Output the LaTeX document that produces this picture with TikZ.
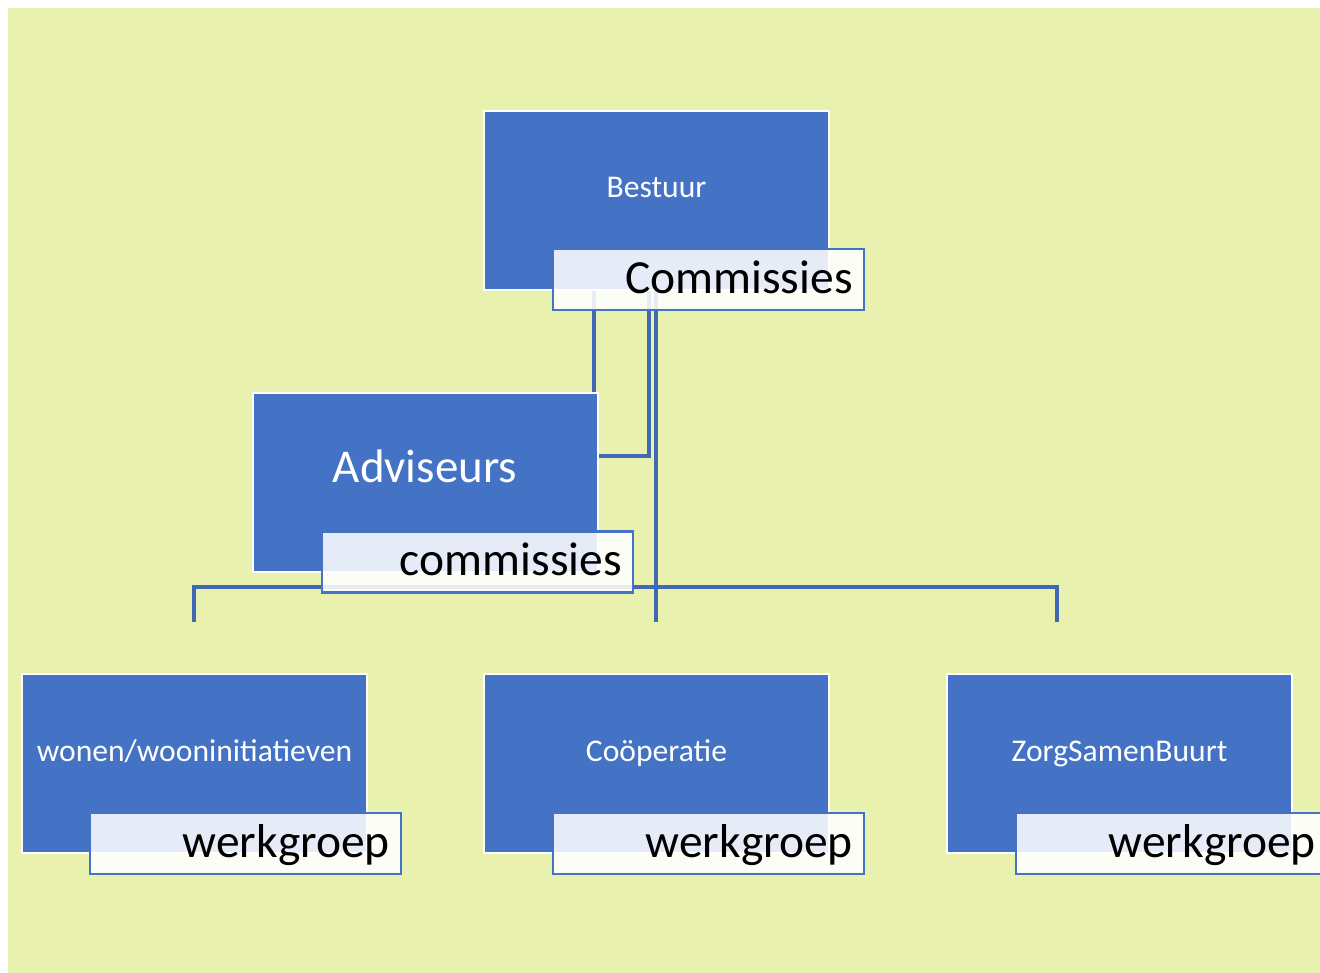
\documentclass[tikz,border=0pt]{standalone}
\usepackage{fontspec}
\setmainfont{Carlito}
\definecolor{bg}{HTML}{E8F2AE}
\definecolor{boxblue}{HTML}{4472C4}
\definecolor{lineblue}{HTML}{4068B4}
\pgfdeclarelayer{back}
\pgfdeclarelayer{lines}
\pgfsetlayers{back,lines,main}
\begin{document}
\begin{tikzpicture}[x=1pt,y=-1pt,
  box/.style={draw=white, line width=2, fill=boxblue, minimum width=345, minimum height=179, inner sep=0},
  boxtxt/.style={label={[anchor=base, text=white, yshift=-88, font=\fontsize{31.6}{38}\selectfont]north:#1}},
  bigtxt/.style={label={[anchor=base, text=white, yshift=-90, font=\fontsize{47}{56}\selectfont]north:#1}},
  lbl/.style={draw=boxblue, line width=2.5, fill=white, fill opacity=0.87, text opacity=1, minimum width=311, minimum height=61, inner sep=0,
    label={[anchor=base east, text=black, fill opacity=1, text opacity=1, xshift=-9, yshift=18, font=\fontsize{47.5}{56}\selectfont]south east:#1}},
  conn/.style={draw=lineblue, line width=3.4}]
\useasboundingbox (0,0) rectangle (1320,973);
\begin{pgfonlayer}{back}
\fill[white] (0,0) rectangle (1320,973);
\fill[bg] (8,8) rectangle (1320,973);
\end{pgfonlayer}
% boxes
\node[box, boxtxt=Bestuur] (bestuur) at (656.5,200.5) {};
\node[box, bigtxt=Adviseurs] (adv) at (425,482.5) {};
\node[box, boxtxt=wonen/wooninitiatieven] (w1) at (194.5,763.5) {};
\node[box, boxtxt=Coöperatie] (w2) at (656.5,763.5) {};
\node[box, boxtxt=ZorgSamenBuurt] (w3) at (1119.5,763.5) {};
% semi-transparent labels
\node[lbl=Commissies] (lcom) at (708.5,279.5) {};
\node[lbl=commissies] (ladv) at (477.5,562) {};
\node[lbl=werkgroep] (l1) at (245.5,843.5) {};
\node[lbl=werkgroep] (l2) at (708.5,843.5) {};
\node[lbl=werkgroep] (l3) at (1171.5,843.5) {};
% connectors
\coordinate (x1) at (594,0);
\coordinate (j2) at (649,456);
\coordinate (c3end) at (656,622);
\coordinate (d1) at (194,622);
\coordinate (bar) at (656,587);
\coordinate (d3) at (1057,622);
\begin{pgfonlayer}{lines}
\draw[conn] (bestuur.south -| x1) -- (adv.north -| x1);
\draw[conn] (bestuur.south -| j2) |- (adv.east |- j2);
\draw[conn] (bestuur.south -| c3end) -- (c3end);
\draw[conn] (d1) |- (bar) -| (d3);
\end{pgfonlayer}
\end{tikzpicture}
\end{document}
